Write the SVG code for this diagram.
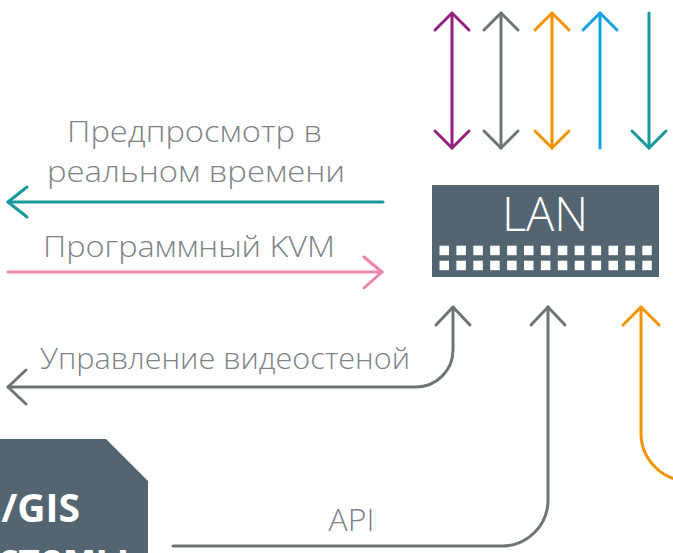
<svg xmlns="http://www.w3.org/2000/svg" xmlns:xlink="http://www.w3.org/1999/xlink" width="673" height="553" viewBox="0 0 673 553">
<defs>
<style>
.ln{fill:none;stroke-width:3;stroke-linecap:round;stroke-linejoin:round}
.lbl{font-family:"Open Sans","Liberation Sans",sans-serif;font-weight:300;fill:#7d8387}
.sq{fill:#ffffff}
</style>
<g id="sqrow">
<rect class="sq" x="439.5" y="0" width="9.5" height="9.5"/>
<rect class="sq" x="456.4" y="0" width="9.5" height="9.5"/>
<rect class="sq" x="473.3" y="0" width="9.5" height="9.5"/>
<rect class="sq" x="490.2" y="0" width="9.5" height="9.5"/>
<rect class="sq" x="507.1" y="0" width="9.5" height="9.5"/>
<rect class="sq" x="524.0" y="0" width="9.5" height="9.5"/>
<rect class="sq" x="540.9" y="0" width="9.5" height="9.5"/>
<rect class="sq" x="557.8" y="0" width="9.5" height="9.5"/>
<rect class="sq" x="574.7" y="0" width="9.5" height="9.5"/>
<rect class="sq" x="591.6" y="0" width="9.5" height="9.5"/>
<rect class="sq" x="608.5" y="0" width="9.5" height="9.5"/>
<rect class="sq" x="625.4" y="0" width="9.5" height="9.5"/>
<rect class="sq" x="642.3" y="0" width="9.5" height="9.5"/>
</g>
</defs>
<rect width="673" height="553" fill="#ffffff"/>

<g id="connectors">
<g stroke="#93207f" class="ln">
<path d="M452,13 V148"/><path d="M435,30 L452,13 L469,30"/><path d="M435,131 L452,148 L469,131"/>
</g>
<g stroke="#6f7476" class="ln">
<path d="M501,13 V148"/><path d="M484,30 L501,13 L518,30"/><path d="M484,131 L501,148 L518,131"/>
</g>
<g stroke="#f39200" class="ln">
<path d="M552,13 V148"/><path d="M535,30 L552,13 L569,30"/><path d="M535,131 L552,148 L569,131"/>
</g>
<g stroke="#17a2e0" class="ln">
<path d="M600,13 V148"/><path d="M583,30 L600,13 L617,30"/>
</g>
<g stroke="#17999b" class="ln">
<path d="M649,13 V148"/><path d="M632,131 L649,148 L666,131"/>
</g>
<g stroke="#17999b" class="ln">
<path d="M383,202 H8"/><path d="M27,187 L8,202 L27,217"/>
</g>
<g stroke="#ee82ac" class="ln">
<path d="M8,272 H382"/><path d="M364,257 L382,272 L364,288"/>
</g>
<g stroke="#6f7476" class="ln">
<path d="M453,307 V350 A37,37 0 0 1 416,387 H8"/>
<path d="M436,325 L453,307 L470,325"/>
<path d="M26,370 L8,387 L26,404"/>
</g>
<g stroke="#6f7476" class="ln">
<path d="M548,307 V500 A46,46 0 0 1 502,546 H173"/>
<path d="M531,325 L548,307 L565,325"/>
</g>
<g stroke="#f39200" class="ln">
<path d="M641,307 V433 A48,48 0 0 0 689,481"/>
<path d="M623,325 L641,307 L659,325"/>
</g>
</g>

<g id="lan">
<rect x="432" y="185" width="227" height="92" fill="#536570"/>
<text x="545" y="231" text-anchor="middle" font-family="'Open Sans','Liberation Sans',sans-serif" font-weight="300" font-size="47" fill="#ffffff">LAN</text>
<use xlink:href="#sqrow" y="245.7"/>
<use xlink:href="#sqrow" y="260.7"/>
</g>

<g id="labels">
<text class="lbl" x="194.5" y="142" text-anchor="middle" font-size="30" textLength="255" lengthAdjust="spacingAndGlyphs">Предпросмотр в</text>
<text class="lbl" x="196" y="182" text-anchor="middle" font-size="30" textLength="298" lengthAdjust="spacingAndGlyphs">реальном времени</text>
<text class="lbl" x="189" y="257" text-anchor="middle" font-size="30" textLength="292" lengthAdjust="spacingAndGlyphs">Программный KVM</text>
<text class="lbl" x="225" y="369" text-anchor="middle" font-size="29" textLength="370" lengthAdjust="spacingAndGlyphs">Управление видеостеной</text>
<text class="lbl" x="351.5" y="531" text-anchor="middle" font-size="31" textLength="46" lengthAdjust="spacingAndGlyphs">API</text>
</g>

<g id="vms">
<path d="M0,439 H106 L148,481 V553 H0 Z" fill="#536570"/>
<text x="80" y="522" text-anchor="end" font-family="'Open Sans','Liberation Sans',sans-serif" font-weight="700" font-size="39" fill="#ffffff">/GIS</text>
<text x="129" y="572" text-anchor="end" font-family="'Open Sans','Liberation Sans',sans-serif" font-weight="700" font-size="39" fill="#ffffff">стемы</text>
</g>
</svg>
